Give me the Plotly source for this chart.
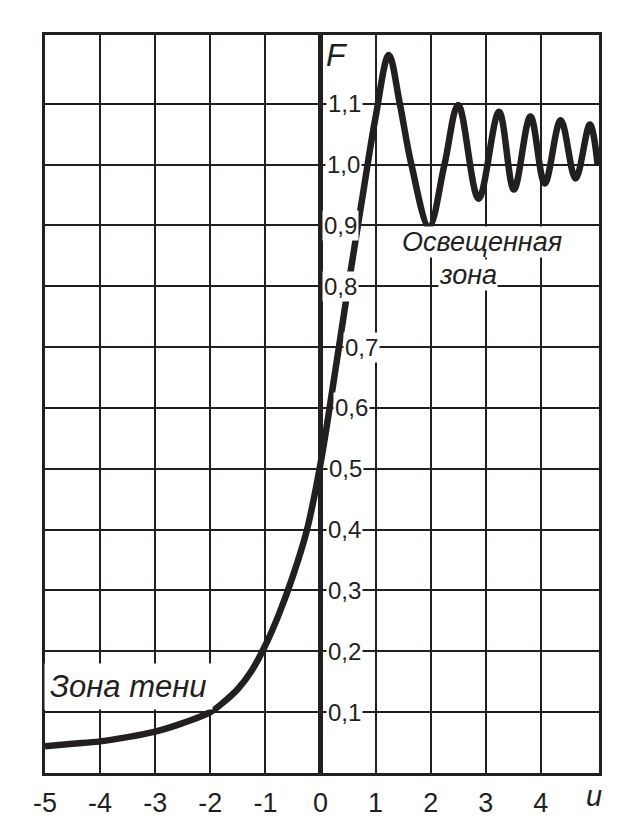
import plotly.graph_objects as go

# Curve values
u_vals = [-5.0, -4.5, -4.0, -3.5, -3.0, -2.5, -2.0, -1.75, -1.5, -1.25, -1.0, -0.75,
          -0.5, -0.25, 0.0, 0.25, 0.5, 0.75, 1.0, 1.24, 1.44, 1.65, 1.97, 2.25,
          2.50, 2.87, 3.24, 3.51, 3.81, 4.07, 4.36, 4.63, 4.89, 5.03]
f_vals = [0.044, 0.048, 0.052, 0.059, 0.068, 0.082, 0.100, 0.117, 0.138, 0.168, 0.210, 0.262,
          0.324, 0.398, 0.508, 0.650, 0.798, 0.940, 1.078, 1.180, 1.100, 1.000, 0.898, 1.000,
          1.098, 0.944, 1.087, 0.959, 1.079, 0.969, 1.073, 0.977, 1.066, 1.000]

x_ticks = [-5, -4, -3, -2, -1, 0, 1, 2, 3, 4]
x_tick_text = ["-5", "-4", "-3", "-2", "-1", "0", "1", "2", "3", "4"]
y_ticks = [0.1, 0.2, 0.3, 0.4, 0.5, 0.6, 0.7, 0.8, 0.9, 1.0, 1.1]
y_tick_text = ["0,1", "0,2", "0,3", "0,4", "0,5", "0,6", "0,7", "0,8", "0,9", "1,0", "1,1"]
y_label_shift = [5.5, 5.5, 5.5, 5.5, 6.5, 12.5, 22.5, 1.5, 1.5, 4.5, 5.5]

INK = "#231f20"
FONT = "Liberation Sans, Arial, sans-serif"

fig = go.Figure()
fig.add_trace(go.Scatter(
    x=u_vals, y=f_vals, mode="lines",
    line=dict(color=INK, width=6.5, shape="spline", smoothing=1.0),
    hoverinfo="skip", showlegend=False,
))

annotations = []
for yv, txt, sh in zip(y_ticks, y_tick_text, y_label_shift):
    annotations.append(dict(
        x=0, y=yv, xref="x", yref="y", text=txt, showarrow=False,
        xanchor="left", yanchor="middle", xshift=sh,
        font=dict(family=FONT, size=24, color=INK),
        bgcolor="white", borderpad=1,
    ))

annotations += [
    dict(x=0.30, y=1.180, xref="x", yref="y", text="<i>F</i>", showarrow=False,
         font=dict(family=FONT, size=32, color=INK), xanchor="center", yanchor="middle"),
    dict(x=4.96, y=-0.031, xref="x", yref="paper", text="<i>u</i>", showarrow=False,
         font=dict(family=FONT, size=29, color=INK), xanchor="center", yanchor="middle"),
    dict(x=2.94, y=0.872, xref="x", yref="y", text="<i>Освещенная</i>", showarrow=False,
         font=dict(family=FONT, size=27, color=INK), xanchor="center", yanchor="middle",
         bgcolor="white", borderpad=0),
    dict(x=2.68, y=0.818, xref="x", yref="y", text="<i>зона</i>", showarrow=False,
         font=dict(family=FONT, size=27, color=INK), xanchor="center", yanchor="middle",
         bgcolor="white", borderpad=0),
    dict(x=-3.49, y=0.143, xref="x", yref="y", text="<i>Зона тени</i>", showarrow=False,
         font=dict(family=FONT, size=31, color=INK), xanchor="center", yanchor="middle",
         bgcolor="white", borderpad=5),
]

fig.update_layout(
    width=637, height=830,
    margin=dict(l=45, r=38, t=35, b=55),
    paper_bgcolor="white", plot_bgcolor="white",
    annotations=annotations,
    xaxis=dict(
        range=[-5, 5.055], tickmode="array", tickvals=x_ticks, ticktext=x_tick_text,
        showgrid=True, gridcolor=INK, gridwidth=2,
        zeroline=True, zerolinecolor=INK, zerolinewidth=4.5,
        showline=True, linecolor=INK, linewidth=2.5, mirror=True,
        ticks="outside", ticklen=4, tickcolor="white",
        tickfont=dict(family=FONT, size=27, color=INK),
        fixedrange=True,
    ),
    yaxis=dict(
        range=[0, 1.213], tickmode="array", tickvals=y_ticks,
        showgrid=True, gridcolor=INK, gridwidth=2,
        zeroline=False, showticklabels=False,
        showline=True, linecolor=INK, linewidth=2.5, mirror=True,
        fixedrange=True,
    ),
)

fig.write_html("out.html", config={"displayModeBar": False},
               post_script="document.body.style.margin='0';")
